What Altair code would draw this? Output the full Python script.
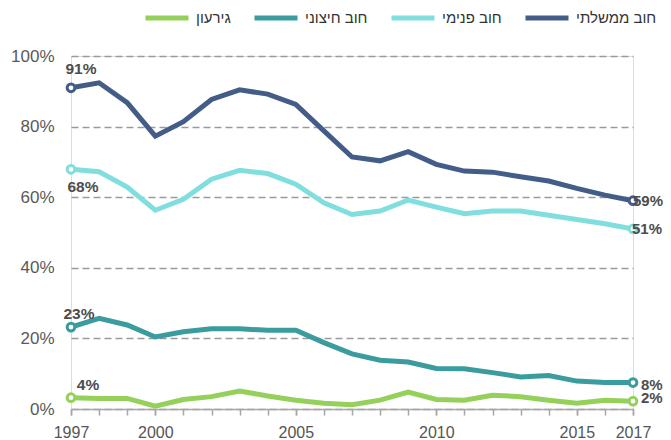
import altair as alt
import pandas as pd

# ---------------- data ----------------
years = list(range(1997, 2018))
series_names = ["גירעון", "חוב חיצוני", "חוב פנימי", "חוב ממשלתי"]
series_colors = ["#95D15A", "#3A9C9E", "#80DEDF", "#445D88"]

deficit = [3.2, 3.0, 3.0, 0.8, 2.7, 3.5, 5.1, 3.7, 2.5, 1.6, 1.2,
           2.5, 4.8, 2.7, 2.5, 3.9, 3.5, 2.5, 1.6, 2.5, 2.2]
external_debt = [23.2, 25.7, 23.8, 20.4, 21.9, 22.7, 22.7, 22.3, 22.3, 18.8, 15.6,
                 13.8, 13.3, 11.5, 11.4, 10.3, 9.1, 9.5, 7.9, 7.5, 7.5]
internal_debt = [67.9, 67.2, 62.9, 56.3, 59.4, 65.1, 67.6, 66.7, 63.7, 58.4, 55.1,
                 56.1, 59.2, 57.2, 55.3, 56.1, 56.1, 54.9, 53.7, 52.5, 51.0]
gov_debt = [91.0, 92.4, 86.8, 77.3, 81.4, 87.7, 90.4, 89.2, 86.3, 78.8, 71.4,
            70.3, 72.9, 69.3, 67.4, 67.1, 65.8, 64.6, 62.5, 60.6, 59.0]

x_label_years = [1997, 2000, 2005, 2010, 2015, 2017]
y_grid_values = [0, 10, 20, 30, 40, 50, 60, 70, 80, 90, 100]

# end-point annotation texts: (series index, text)
start_labels = [(3, "91%"), (2, "68%"), (1, "23%"), (0, "4%")]
end_labels = [(3, "59%"), (2, "51%"), (1, "8%"), (0, "2%")]

all_values = [deficit, external_debt, internal_debt, gov_debt]

rows = []
for name, vals in zip(series_names, all_values):
    for y, v in zip(years, vals):
        rows.append({"year": y, "value": v, "series": name})
df = pd.DataFrame(rows)

ends = df[df["year"].isin([years[0], years[-1]])]

FONT = "Liberation Sans, Arial, sans-serif"
AXIS_GREY = "#A6A6A6"

color_scale = alt.Scale(domain=series_names, range=series_colors)
x_scale = alt.Scale(domain=[years[0], years[-1]], nice=False, zero=False)

y_enc = alt.Y("value:Q", scale=alt.Scale(domain=[0, 100], nice=False),
              axis=alt.Axis(values=y_grid_values, title=None,
                            labelExpr="datum.value % 20 == 0 ? datum.value + '%' : ''",
                            labelFontSize=17, labelColor="#595959", labelFont=FONT,
                            domain=False, ticks=False, labelPadding=17,
                            grid=True, gridColor="#9A9A9A", gridDash=[7, 4], gridWidth=1.3))

# main x axis: labelled years
x_main = alt.X("year:Q", scale=x_scale,
               axis=alt.Axis(values=x_label_years, title=None, grid=False, orient="bottom",
                             format="d", labelFontSize=16, labelColor="#555555", labelFont=FONT,
                             domainColor=AXIS_GREY, domainWidth=1.5,
                             tickColor=AXIS_GREY, tickWidth=1.5, tickSize=6,
                             labelPadding=9, labelFlush=False))
# secondary x axis: a tick at every year, no labels
x_ticks = alt.X("year:Q", scale=x_scale,
                axis=alt.Axis(values=years, title=None, grid=False, orient="bottom",
                              labels=False, domain=False,
                              tickColor=AXIS_GREY, tickWidth=1.5, tickSize=6))

lines = alt.Chart(df).mark_line(strokeWidth=5).encode(
    x=x_main, y=y_enc,
    color=alt.Color("series:N", scale=color_scale, sort=series_names,
                    legend=alt.Legend(title=None, orient="none", legendX=72, legendY=-62,
                                      direction="horizontal", symbolType="stroke",
                                      symbolStrokeWidth=5, symbolSize=1849,
                                      labelFontSize=15, labelFont=FONT, labelColor="#333333",
                                      labelOffset=5, columnPadding=13)),
    order="year:Q",
)

points = alt.Chart(ends).mark_point(shape="circle", filled=False, fill="white", fillOpacity=1,
                                    size=60, strokeWidth=3, opacity=1).encode(
    x=x_ticks, y="value:Q",
    color=alt.Color("series:N", scale=color_scale, legend=None),
)

offsets_start = {"91%": (10, -19), "68%": (12, 18), "23%": (8, -13), "4%": (17, -13)}
offsets_end = {"59%": (0, 0), "51%": (-1, 0), "8%": (8, 2), "2%": (8, -3)}

text_layers = []
for idx, txt in start_labels:
    sub = df[(df["series"] == series_names[idx]) & (df["year"] == years[0])].assign(label=txt)
    dx, dy = offsets_start[txt]
    text_layers.append(alt.Chart(sub).mark_text(
        fontSize=15.5, fontWeight="bold", font=FONT, color="#4D4D4D",
        align="center", baseline="middle", dx=dx, dy=dy).encode(
        x=alt.X("year:Q", scale=x_scale, axis=None), y="value:Q", text="label:N"))
for idx, txt in end_labels:
    sub = df[(df["series"] == series_names[idx]) & (df["year"] == years[-1])].assign(label=txt)
    dx, dy = offsets_end[txt]
    text_layers.append(alt.Chart(sub).mark_text(
        fontSize=15, fontWeight="bold", font=FONT, color="#4D4D4D",
        align="left", baseline="middle", dx=dx, dy=dy).encode(
        x=alt.X("year:Q", scale=x_scale, axis=None), y="value:Q", text="label:N"))

chart = alt.layer(lines, points, *text_layers).resolve_axis(x="independent").properties(
    width=562, height=353,
    padding={"left": 63, "top": 48, "right": 30, "bottom": 30},
    autosize=alt.AutoSizeParams(type="none"),
).configure_view(strokeWidth=0).configure(font=FONT)

chart.save("out.html", embed_options={"renderer": "svg", "actions": False})
